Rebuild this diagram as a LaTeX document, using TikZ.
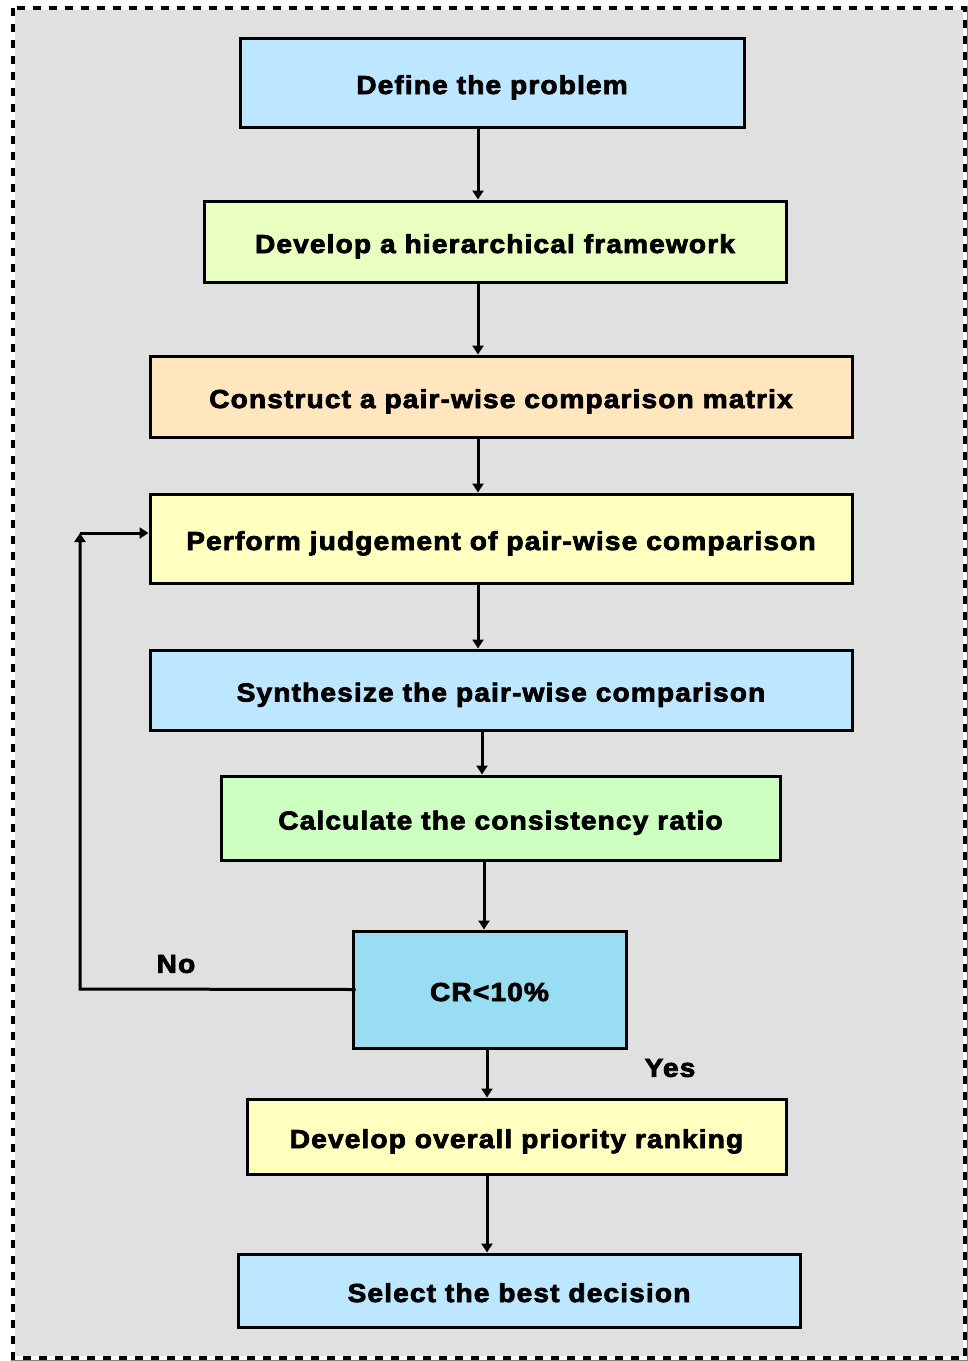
\documentclass[tikz,border=0pt]{standalone}
\usepackage{fontspec}
\newfontfamily\hv{Liberation Sans Bold}[FakeBold=3,FakeStretch=1.08,LetterSpace=4.4]
\usetikzlibrary{arrows.meta,positioning}
\definecolor{bg}{HTML}{E0E0E0}
\definecolor{cblue}{HTML}{BDE6FF}
\definecolor{cgreenyellow}{HTML}{E8FFC0}
\definecolor{cpeach}{HTML}{FFE6BE}
\definecolor{cyellow}{HTML}{FFFFC0}
\definecolor{cgreen}{HTML}{CCFFC0}
\definecolor{ccr}{HTML}{99DDF2}
\begin{document}
\begin{tikzpicture}[x=1pt,y=-1pt,
  box/.style={draw=black,line width=3pt,inner sep=0pt,text height=23pt,text depth=0pt,font=\hv\fontsize{26}{30}\selectfont},
  arr/.style={draw=black,line width=3pt,-{Triangle[length=9pt,width=11pt]}},
  lbl/.style={font=\hv\fontsize{26}{30}\selectfont}]
\useasboundingbox (0,0) rectangle (968,1361);
\fill[bg] (13,8) rectangle (965,1358);
\draw[gray,line width=1pt] (11,6) rectangle (967,1360);
\draw[white,line width=4pt] (13,8) rectangle (965,1358);
\draw[black,line width=4pt,dash pattern=on 8pt off 8pt] (13,8) rectangle (965,1358);

\node[box,fill=cblue,minimum width=504,minimum height=89] (b1) at (492,82.5) {Define the problem};
\node[box,fill=cgreenyellow,minimum width=582,minimum height=81] (b2) at (495,241.5) {Develop a hierarchical framework};
\node[box,fill=cpeach,minimum width=702,minimum height=81] (b3) at (501,396.5) {Construct a pair-wise comparison matrix};
\node[box,fill=cyellow,minimum width=702,minimum height=89] (b4) at (501,538.5) {Perform judgement of pair-wise comparison};
\node[box,fill=cblue,minimum width=702,minimum height=80] (b5) at (501,690) {Synthesize the pair-wise comparison};
\node[box,fill=cgreen,minimum width=559,minimum height=84] (b6) at (500.5,818) {Calculate the consistency ratio};
\node[box,fill=ccr,minimum width=273,minimum height=117] (b7) at (489.5,989.5) {CR<10\%};
\node[box,fill=cyellow,minimum width=539,minimum height=75] (b8) at (516.5,1136.5) {Develop overall priority ranking};
\node[box,fill=cblue,minimum width=562,minimum height=73] (b9) at (519,1290.5) {Select the best decision};

\draw[arr] ([xshift=-14pt]b1.south) -- ([xshift=-14pt]b1.south |- b2.north);
\draw[arr] ([xshift=-17pt]b2.south) -- ([xshift=-17pt]b2.south |- b3.north);
\draw[arr] ([xshift=-23pt]b3.south) -- ([xshift=-23pt]b3.south |- b4.north);
\draw[arr] ([xshift=-23pt]b4.south) -- ([xshift=-23pt]b4.south |- b5.north);
\draw[arr] ([xshift=-19pt]b5.south) -- ([xshift=-19pt]b5.south |- b6.north);
\draw[arr] ([xshift=-16.5pt]b6.south) -- ([xshift=-16.5pt]b6.south |- b7.north);
\draw[arr] ([xshift=-2.5pt]b7.south) -- ([xshift=-2.5pt]b7.south |- b8.north);
\draw[arr] ([xshift=-29.5pt]b8.south) -- ([xshift=-29.5pt]b8.south |- b9.north);

\coordinate (c1) at (80,989);
\coordinate (c2) at (80,533);
\draw[arr] ([xshift=4pt]b7.west) -- (c1) -- (c2);
\draw[arr] (c2) -- (c2 -| b4.west);

\node[lbl] (no) at (176,964) {No};
\node[lbl] (yes) at (670,1068) {Yes};
\end{tikzpicture}
\end{document}
